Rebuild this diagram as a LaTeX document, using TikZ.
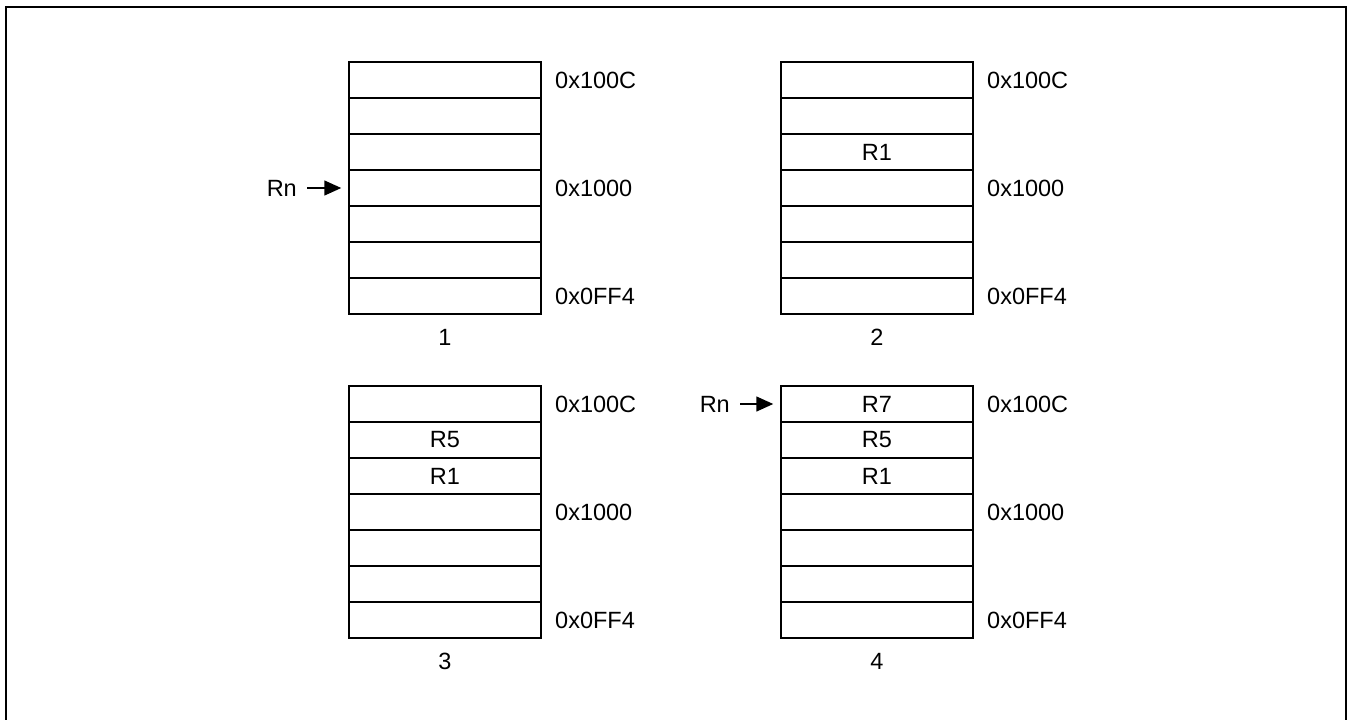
\documentclass[tikz,border=0pt]{standalone}
\usepackage{fontspec}
\setmainfont{Liberation Sans}
\usetikzlibrary{arrows.meta}
\begin{document}
\begin{tikzpicture}[x=1pt,y=-1pt,
  every node/.style={font=\fontsize{23.5pt}{27pt}\selectfont},
  cell/.style={draw,line width=1.5pt,minimum width=192pt,minimum height=36pt,inner sep=0pt,anchor=center},
  addr/.style={anchor=west,inner sep=0pt},
  ptr/.style={-{Triangle[length=17pt,width=15pt]},line width=1.5pt,shorten <=10pt,shorten >=7pt},
  frame/.style={line width=2.3pt}]
\useasboundingbox (0,0) rectangle (1350,720);
\draw[frame] (6,722) -- (6,6.7) -- (1346,6.7) -- (1346,722);
% boxes: name / center x / top y
\foreach \b/\cx/\ty in {1/445/62, 2/877/62, 3/445/386, 4/877/386}{
  \foreach \r in {1,...,7}{
    \node[cell] (b\b r\r) at (\cx,{\ty+36*(\r-0.5)}) {};
  }
  \node[addr] (a\b c) at ({\cx+96+14},{\ty+18}) {0x100C};
  \node[addr] (a\b m) at ({\cx+96+14},{\ty+126}) {0x1000};
  \node[addr] (a\b f) at ({\cx+96+14},{\ty+234}) {0x0FF4};
  \node (n\b) at (\cx,{\ty+275}) {\b};
}
\node at (b2r3) {R1};
\node at (b3r2) {R5};
\node at (b3r3) {R1};
\node at (b4r1) {R7};
\node at (b4r2) {R5};
\node at (b4r3) {R1};
\node[anchor=east,inner sep=0pt] (rn1) at (297,188) {Rn};
\node[anchor=east,inner sep=0pt] (rn4) at (730,404) {Rn};
\draw[ptr] (rn1.east) -- (b1r4.west);
\draw[ptr] (rn4.east) -- (b4r1.west);
\end{tikzpicture}
\end{document}
